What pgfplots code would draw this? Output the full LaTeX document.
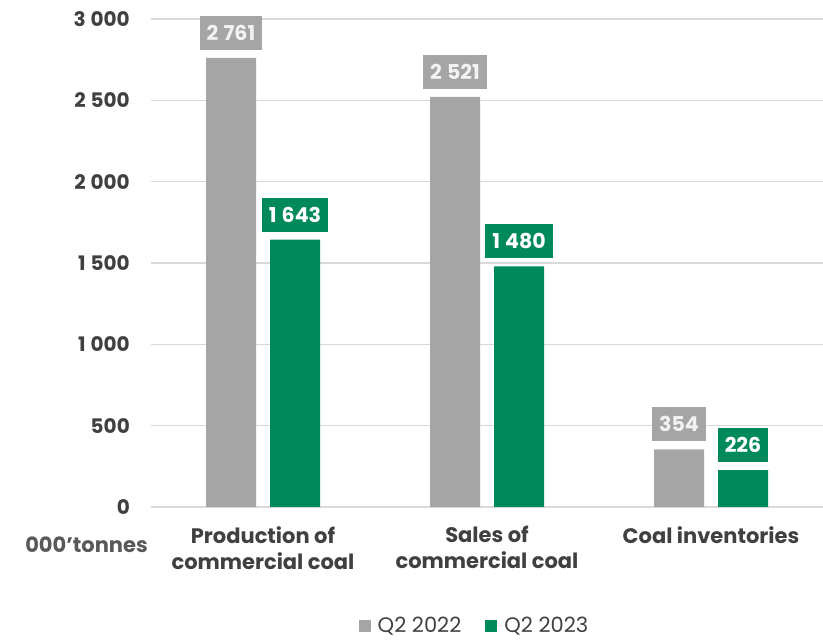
\documentclass[border=0pt]{standalone}
\usepackage{fontspec}
\setmainfont{Poppins}
\usepackage{pgfplots}
\pgfplotsset{compat=1.18}
\definecolor{cgray}{RGB}{165,165,165}
\definecolor{cgreen}{RGB}{0,137,90}
\definecolor{ctext}{RGB}{64,64,64}
\definecolor{clabel}{RGB}{89,89,89}
\definecolor{cgrid}{RGB}{217,217,217}
\begin{document}
\begin{tikzpicture}[x=1pt,y=1pt]
\path[use as bounding box] (0,0) rectangle (823,640);
\begin{axis}[
 at={(151pt,133pt)}, anchor=south west,
 scale only axis, width=672pt, height=488pt,
 xmin=-0.5, xmax=2.5, ymin=0, ymax=3000,
 ybar, bar width=50pt,
 axis line style={draw=none},
 major tick length=0pt,
 ymajorgrids, grid style={cgrid, line width=1.5pt},
 ytick={0,500,...,3000},
 xtick={0,1,2},
 xticklabels={{Production of\\commercial coal},{Sales of\\commercial coal},{Coal inventories}},
 xticklabel style={align=center, font=\fontsize{21}{26}\selectfont\bfseries, text=ctext, anchor=north, inner sep=0pt, yshift=-19pt},
 yticklabel style={font=\fontsize{20}{24}\selectfont\bfseries, text=ctext, anchor=east, inner sep=0pt, xshift=-21pt},
 /pgf/number format/.cd, 1000 sep={\hspace{0.25em}}, assume math mode=true, /pgfplots/.cd,
 scaled y ticks=false,
 clip=false,
 nodes near coords,
 every node near coord/.append style={font=\fontsize{20.5}{24}\selectfont\bfseries, text=white, anchor=south, minimum height=34pt, inner xsep=7pt, inner ysep=0pt, yshift=8pt},
 legend image code/.code={\fill[#1] (0pt,-6pt) rectangle (12pt,6pt); \path (0pt,0pt) -- (17pt,0pt);},
 legend columns=2,
 legend style={at={(0.4814,-0.243)}, anchor=center, draw=none, fill=none, font=\fontsize{21}{25}\selectfont, text=ctext, /tikz/every even column/.append style={column sep=22pt}},
]
\addplot[fill=cgray, draw=none, bar shift=-32pt, every node near coord/.append style={fill=cgray, text={rgb,255:red,242;green,242;blue,242}}] coordinates {(0,2761) (1,2521) (2,354)};
\addplot[fill=cgreen, draw=none, bar shift=32pt, every node near coord/.append style={fill=cgreen}] coordinates {(0,1643) (1,1480) (2,226)};
\legend{Q2 2022, Q2 2023}
\end{axis}
\node[anchor=base east, font=\fontsize{21}{25}\selectfont\bfseries, text=clabel, inner sep=0pt] at (148,87) {000’tonnes};
\end{tikzpicture}
\end{document}
